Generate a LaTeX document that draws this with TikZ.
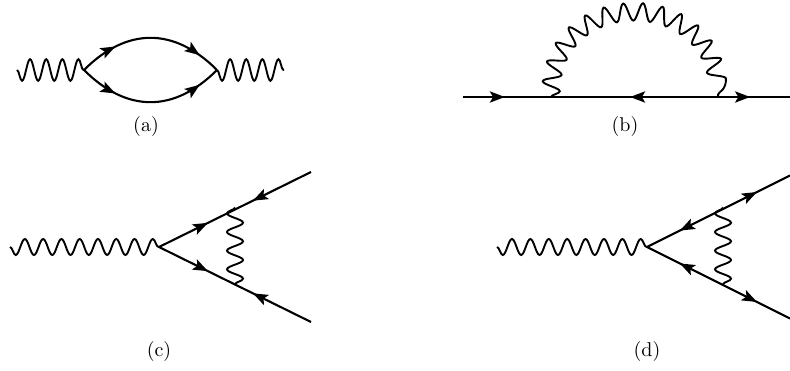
\documentclass[tikz,border=0pt]{standalone}
\usepackage{amsmath}
\usetikzlibrary{arrows.meta, decorations.pathmorphing, decorations.markings}

\begin{document}
\begin{tikzpicture}[
        x=0.5pt, y=0.5pt,
        >={Stealth[length=7.5pt,width=5.6pt,inset=1.6pt]},
        line width=1.05pt,
        photon/.style 2 args={decorate, line width=0.95pt,
            decoration={snake, mirror, segment length=#1, amplitude=#2}},
        tip at/.style={postaction={decorate, decoration={markings,
            mark=at position #1 with {\arrow{>}}}}},
        back at/.style={postaction={decorate, decoration={markings,
            mark=at position #1 with {\arrowreversed{>}}}}}
    ]
        \useasboundingbox (0,0) rectangle (790,370);

        % (a)
        \coordinate (a0) at (17,300);
        \coordinate (a1) at (84,300);
        \coordinate (a2) at (217,300);
        \coordinate (a3) at (284,300);
        \node (la) at (146,244) {(a)};
\path
        (a0) edge[photon={8.06pt}{5.4pt}] (a1)
        (a2) edge[photon={8.06pt}{5.4pt}] (a3)
        (a1) edge[out=45, in=135, looseness=1.17, tip at=0.26, tip at=0.85] (a2)
        (a1) edge[out=-45, in=-135, looseness=1.17, tip at=0.26, tip at=0.85] (a2);

        % (b)
        \coordinate (b0) at (463,273);
        \coordinate (b1) at (551,273);
        \coordinate (b2) at (718,273);
        \coordinate (b3) at (790,273);
        \node (lb) at (625,244) {(b)};
\path
        (b0) edge[tip at=0.128, back at=0.511, tip at=0.878] (b3)
        (b1) edge[out=90, in=90, looseness=1.65, photon={9.12pt}{4.4pt}] (b2);

        % (c)
        \coordinate (c0) at (10,123);
        \coordinate (c1) at (159,123);
        \coordinate (c2) at (311,198);
        \coordinate (c3) at (311,48);
        \coordinate (c4) at (235,162.5);
        \coordinate (c5) at (235,85);
        \node (lc) at (159,19) {(c)};
\path
        (c0) edge[photon={9.14pt}{4pt}] (c1)
        (c1) edge[tip at=0.322, back at=0.618] (c2)
        (c1) edge[tip at=0.322, back at=0.618] (c3)
        (c4) edge[photon={9.33pt}{4pt}] (c5);

        % (d)
        \coordinate (d0) at (497,123);
        \coordinate (d1) at (647,123);
        \coordinate (d2) at (790,194.5);
        \coordinate (d3) at (790,51.5);
        \coordinate (d4) at (723,162.5);
        \coordinate (d5) at (723,85);
        \node (ld) at (647,19) {(d)};
\path
        (d0) edge[photon={9.2pt}{4pt}] (d1)
        (d1) edge[back at=0.23, tip at=0.77] (d2)
        (d1) edge[back at=0.23, tip at=0.77] (d3)
        (d4) edge[photon={9.33pt}{4pt}] (d5);
\end{tikzpicture}
\end{document}
